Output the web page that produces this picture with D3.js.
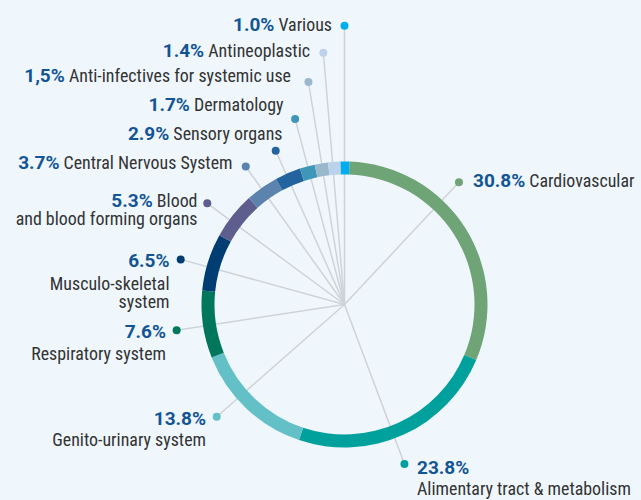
<!DOCTYPE html>
<html>
<head>
<meta charset="utf-8">
<script src="https://cdn.jsdelivr.net/npm/d3@7"></script>
<style>
    body { margin: 0; background: #eff7fd; }
    .label { font-family: Roboto, sans-serif; font-stretch: condensed; font-size: 17.9px; fill: #333333; }
    .pct { font-stretch: normal; font-weight: 700; font-size: 19px; fill: #135594; }
</style>
</head>
<body>
<div id="donut"></div>
<script>
// therapeutic areas, clockwise from the top
const categories = [
    'Cardiovascular',
    'Alimentary tract & metabolism',
    'Genito-urinary system',
    'Respiratory system',
    'Musculo-skeletal system',
    'Blood and blood forming organs',
    'Central Nervous System',
    'Sensory organs',
    'Dermatology',
    'Anti-infectives for systemic use',
    'Antineoplastic',
    'Various',
]
const shares = [30.8, 23.8, 13.8, 7.6, 6.5, 5.3, 3.7, 2.9, 1.7, 1.5, 1.4, 1.0]
const shareLabels = ['30.8%', '23.8%', '13.8%', '7.6%', '6.5%', '5.3%', '3.7%', '2.9%', '1.7%', '1,5%', '1.4%', '1.0%']
const colors = ['#6fa477', '#00a09d', '#63c0c6', '#00775b', '#003d73', '#5e5e8e',
    '#5b83ae', '#23649f', '#3e97b6', '#9ab8cc', '#bcd1ea', '#00aeef']

// label placement: dot as [angle in degrees, distance from centre], text block position
const labelLayout = [
    {dot: [43.1, 167.5], x: 473, y: 187, anchor: 'start', lines: [[0, 'Cardiovascular']]},
    {dot: [159.4, 170.3], x: 417, y: 474, anchor: 'start', lines: [[0], [21, 'Alimentary tract & metabolism']]},
    {dot: [228.7, 170.1], x: 206, y: 425, anchor: 'end', lines: [[0], [20.5, 'Genito-urinary system']]},
    {dot: [261.3, 169.8], x: 166, y: 338, anchor: 'end', lines: [[0], [22, 'Respiratory system']]},
    {dot: [285.4, 169.9], x: 169.5, y: 267, anchor: 'end', lines: [[0], [22.5, 'Musculo-skeletal'], [18, 'system']]},
    {dot: [306.4, 170.5], x: 197.5, y: 206.5, anchor: 'end', lines: [[0, 'Blood'], [18.5, 'and blood forming organs']]},
    {dot: [324.4, 169.6], x: 232.5, y: 168.5, anchor: 'end', lines: [[0, 'Central Nervous System']]},
    {dot: [335.9, 168.5], x: 282.5, y: 139.5, anchor: 'end', lines: [[0, 'Sensory organs']]},
    {dot: [345.1, 192], x: 283.5, y: 110.5, anchor: 'end', lines: [[0, 'Dermatology']]},
    {dot: [350.8, 225.4], x: 291, y: 82, anchor: 'end', lines: [[0, 'Anti-infectives for systemic use']]},
    {dot: [355.2, 252.7], x: 310, y: 56.5, anchor: 'end', lines: [[0, 'Antineoplastic']]},
    {dot: [0, 278.8], x: 332, y: 30.5, anchor: 'end', lines: [[0, 'Various']]},
]

class DonutVis {
    constructor(parentElement) {
        this.parentElement = parentElement
        this.data = categories.map((c, i) => ({
            name: c,
            value: shares[i],
            label: shareLabels[i],
            color: colors[i],
            layout: labelLayout[i],
        }))
        this.initVis()
    }
    initVis() {
        let vis = this

        vis.width = 641
        vis.height = 500
        vis.cx = 344.5
        vis.cy = 304.5
        vis.outerRadius = 143
        vis.innerRadius = 130
        // ring is turned a little so "Various" sits on the top
        vis.offset = 2 * Math.PI / 180

        vis.svg = d3.select('#' + vis.parentElement).append('svg')
            .attr('width', vis.width)
            .attr('height', vis.height)

        vis.g = vis.svg.append('g')
            .attr('transform', `translate(${vis.cx}, ${vis.cy})`)

        vis.pie = d3.pie()
            .value(d => d.value)
            .sort(null)
            .startAngle(vis.offset)
            .endAngle(vis.offset + 2 * Math.PI)

        vis.arc = d3.arc()
            .innerRadius(vis.innerRadius)
            .outerRadius(vis.outerRadius)

        vis.updateVis()
    }
    updateVis() {
        let vis = this

        const dotPos = d => {
            const a = d.layout.dot[0] * Math.PI / 180
            return [Math.sin(a) * d.layout.dot[1], -Math.cos(a) * d.layout.dot[1]]
        }

        // leader lines from the centre to each dot
        vis.g.selectAll('.leader')
            .data(vis.data)
            .join('line')
            .attr('class', 'leader')
            .attr('x1', 0)
            .attr('y1', 0)
            .attr('x2', d => dotPos(d)[0])
            .attr('y2', d => dotPos(d)[1])
            .attr('stroke', '#cfd3d6')
            .attr('stroke-width', 1.5)

        vis.g.selectAll('.slice')
            .data(vis.pie(vis.data))
            .join('path')
            .attr('class', 'slice')
            .attr('d', vis.arc)
            .attr('fill', d => d.data.color)

        vis.g.selectAll('.dot')
            .data(vis.data)
            .join('circle')
            .attr('class', 'dot')
            .attr('cx', d => dotPos(d)[0])
            .attr('cy', d => dotPos(d)[1])
            .attr('r', 4)
            .attr('fill', d => d.color)

        const labels = vis.svg.selectAll('.label')
            .data(vis.data)
            .join('text')
            .attr('class', 'label')
            .attr('text-anchor', d => d.layout.anchor)
            .attr('x', d => d.layout.x)
            .attr('y', d => d.layout.y)

        labels.each(function (d) {
            const t = d3.select(this)
            d.layout.lines.forEach((ln, i) => {
                if (i === 0) {
                    t.append('tspan').attr('class', 'pct').text(d.label)
                    if (ln[1]) t.append('tspan').text(' ' + ln[1])
                } else {
                    t.append('tspan')
                        .attr('x', d.layout.x)
                        .attr('dy', ln[0])
                        .text(ln[1])
                }
            })
        })
    }
}

new DonutVis('donut')
</script>
</body>
</html>
